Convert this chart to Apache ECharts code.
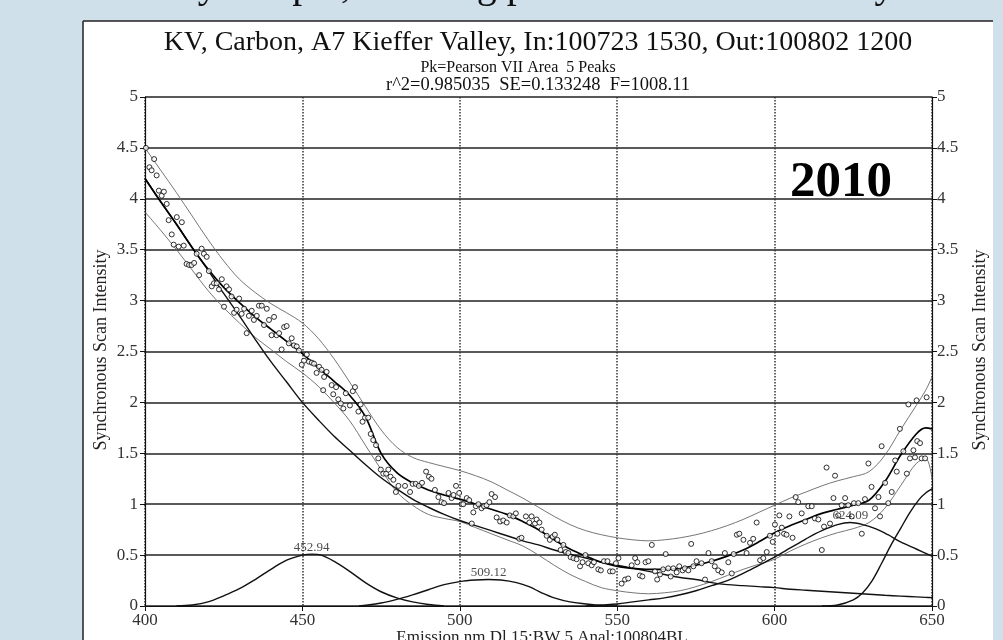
<!DOCTYPE html>
<html>
<head>
<meta charset="utf-8">
<script src="https://cdn.jsdelivr.net/npm/echarts@6/dist/echarts.min.js"></script>
<style>
html,body{margin:0;padding:0;background:#cfe0ea;}
#chart{width:1003px;height:640px;}
</style>
</head>
<body>
<div id="chart"></div>
<script>
// ---------- texts ----------
const slideTitle = "Valley sample, showing peaks in Carbon County";
const chartTitle = "KV, Carbon, A7 Kieffer Valley, In:100723 1530, Out:100802 1200";
const subTitle1 = "Pk=Pearson VII Area  5 Peaks";
const subTitle2 = "r^2=0.985035  SE=0.133248  F=1008.11";
const xAxisName = "Emission nm Dl 15:BW 5 Anal:100804BL";
const yAxisName = "Synchronous Scan Intensity";
const yearLabel = "2010";

// ---------- axes ----------
const xMin = 400, xMax = 650, xStep = 50;
const yMin = 0, yMax = 5, yStep = 0.5;

// ---------- measured data points ----------
const dataPoints = [
[400.3,4.50],[401.4,4.31],[402.1,4.28],[402.9,4.39],[403.7,4.23],[404.4,4.08],[405.3,4.03],[406.0,4.07],[406.9,3.95],[407.5,3.79],
[408.5,3.65],[409.1,3.55],[410.1,3.82],[410.7,3.53],[411.7,3.77],[412.3,3.54],[413.2,3.36],[414.0,3.35],[414.8,3.35],[415.6,3.37],
[416.4,3.46],[417.2,3.25],[418.0,3.51],[418.7,3.46],[419.6,3.43],[420.3,3.29],[421.2,3.14],[421.9,3.17],[422.8,3.17],[423.5,3.11],
[424.4,3.21],[425.1,2.94],[425.9,3.14],[426.7,3.11],[427.5,3.04],[428.3,2.88],[429.1,2.91],[429.9,3.02],[430.7,2.87],[431.5,2.92],
[432.3,2.68],[433.0,2.85],[433.9,2.90],[434.6,2.81],[435.5,2.85],[436.2,2.95],[437.1,2.95],[437.8,2.76],[438.7,2.92],[439.4,2.81],
[440.2,2.66],[441.0,2.84],[441.8,2.66],[442.6,2.68],[443.4,2.52],[444.2,2.74],[445.0,2.75],[445.7,2.58],[446.6,2.63],[447.3,2.56],
[448.2,2.55],[448.9,2.51],[449.8,2.37],[450.5,2.41],[451.4,2.47],[452.1,2.40],[453.0,2.39],[453.7,2.38],[454.5,2.29],[455.3,2.35],
[456.1,2.32],[456.6,2.12],[456.9,2.25],[457.7,2.30],[459.3,2.17],[459.8,2.08],[460.7,2.15],[461.4,2.03],[462.2,1.99],[463.0,1.94],
[463.8,2.09],[465.1,1.97],[466.0,2.11],[466.7,2.15],[467.8,1.91],[468.5,1.98],[469.1,1.81],[469.9,1.85],[470.9,1.85],[471.7,1.69],
[472.5,1.63],[473.4,1.58],[474.1,1.45],[474.9,1.34],[475.7,1.30],[476.6,1.30],[477.3,1.34],[478.0,1.27],[478.9,1.24],[479.7,1.12],
[480.5,1.18],[482.6,1.18],[484.2,1.12],[485.0,1.20],[486.0,1.20],[487.0,1.18],[488.0,1.21],[489.3,1.32],[490.2,1.27],[491.0,1.25],
[492.1,1.14],[493.2,1.07],[494.2,1.02],[495.0,1.01],[496.4,1.11],[497.4,1.06],[498.0,1.09],[498.8,1.18],[499.8,1.11],[500.6,1.00],
[501.1,1.00],[502.2,1.06],[503.0,1.04],[503.8,0.81],[504.3,0.92],[505.1,0.98],[505.9,1.00],[506.9,0.96],[507.7,0.98],[508.5,0.99],
[509.4,1.02],[510.1,1.10],[511.2,1.07],[511.7,0.87],[512.8,0.83],[513.8,0.84],[514.9,0.82],[515.9,0.89],[517.0,0.88],[517.8,0.91],
[518.9,0.66],[519.6,0.67],[521.0,0.88],[522.1,0.82],[522.8,0.88],[523.9,0.81],[524.4,0.85],[525.3,0.82],[526.0,0.75],[527.6,0.69],
[528.6,0.65],[529.5,0.68],[530.2,0.70],[531.0,0.65],[532.0,0.55],[532.9,0.60],[533.7,0.53],[534.5,0.52],[535.2,0.48],[536.1,0.47],
[537.1,0.46],[538.2,0.39],[539.0,0.43],[539.9,0.50],[540.8,0.42],[541.9,0.40],[542.6,0.43],[544.0,0.36],[544.8,0.35],[545.8,0.44],
[546.9,0.44],[547.7,0.34],[548.6,0.34],[549.6,0.42],[550.4,0.47],[551.4,0.22],[552.5,0.26],[553.5,0.27],[554.6,0.40],[555.7,0.47],
[556.4,0.43],[557.2,0.30],[558.0,0.29],[559.0,0.43],[559.9,0.44],[561.0,0.60],[562.0,0.34],[562.7,0.26],[563.6,0.31],[564.6,0.36],
[565.4,0.51],[566.2,0.37],[567.0,0.29],[567.8,0.37],[568.9,0.33],[569.7,0.39],[570.8,0.35],[571.5,0.37],[572.6,0.35],[573.5,0.61],
[574.2,0.39],[575.2,0.44],[576.8,0.42],[577.9,0.26],[579.0,0.52],[580.0,0.44],[581.0,0.39],[582.1,0.35],[583.2,0.33],[584.2,0.52],
[585.3,0.43],[586.4,0.32],[587.0,0.51],[588.0,0.70],[588.8,0.71],[590.1,0.65],[591.1,0.52],[592.2,0.62],[593.2,0.66],[594.3,0.82],
[595.4,0.45],[596.4,0.47],[597.5,0.53],[598.5,0.69],[599.4,0.63],[600.1,0.80],[600.9,0.71],[601.5,0.89],[602.3,0.77],[603.0,0.71],
[603.8,0.70],[604.7,0.88],[605.7,0.67],[606.7,1.07],[607.5,1.02],[608.6,0.91],[609.7,0.83],[610.7,0.98],[611.8,0.98],[612.8,0.86],
[613.9,0.85],[615.0,0.55],[615.7,0.78],[616.5,1.36],[617.6,0.81],[618.7,1.06],[619.2,1.28],[620.2,0.89],[621.3,0.99],[622.4,1.06],
[623.4,0.99],[624.5,0.88],[625.2,1.01],[626.6,1.01],[627.7,0.71],[628.7,1.05],[629.8,1.40],[630.8,1.17],[631.9,0.96],[633.0,1.07],
[633.5,0.88],[634.0,1.57],[635.1,1.21],[636.1,1.01],[637.2,1.12],[638.3,1.43],[638.8,1.32],[639.8,1.74],[640.9,1.52],[642.0,1.30],
[642.5,1.98],[643.0,1.45],[644.1,1.53],[644.6,1.46],[645.1,2.02],[645.3,1.62],[646.2,1.60],[646.7,1.45],[647.8,1.45],[648.3,2.05]
];

// ---------- fitted curve, bands and baseline component (common grid) ----------
const curveX = [400,405,410,415,420,425,430,435,440,445,450,455,460,465,470,475,480,485,490,495,500,505,510,515,520,525,530,535,540,545,550,555,560,565,570,575,580,585,590,595,600,605,610,615,620,625,630,635,640,645,648,650];
const fitY   = [4.20,3.97,3.75,3.52,3.31,3.13,2.98,2.84,2.72,2.60,2.48,2.34,2.21,2.07,1.86,1.50,1.31,1.21,1.14,1.09,1.05,1.00,0.95,0.90,0.83,0.75,0.65,0.56,0.49,0.43,0.39,0.37,0.36,0.36,0.37,0.40,0.44,0.49,0.55,0.63,0.72,0.79,0.85,0.91,0.95,0.99,1.04,1.22,1.48,1.69,1.75,1.74];
const upperY = [4.50,4.28,4.06,3.83,3.60,3.39,3.21,3.08,2.97,2.88,2.78,2.63,2.43,2.20,1.96,1.73,1.56,1.46,1.41,1.37,1.33,1.28,1.22,1.14,1.06,0.97,0.88,0.80,0.74,0.70,0.67,0.65,0.64,0.65,0.67,0.70,0.74,0.79,0.85,0.92,0.99,1.06,1.12,1.18,1.23,1.27,1.32,1.48,1.73,1.97,2.12,2.25];
const lowerY = [3.87,3.69,3.50,3.30,3.10,2.93,2.78,2.64,2.52,2.40,2.29,2.16,2.00,1.82,1.58,1.34,1.12,0.99,0.90,0.86,0.83,0.77,0.71,0.65,0.59,0.50,0.40,0.31,0.24,0.18,0.15,0.13,0.12,0.13,0.15,0.19,0.24,0.30,0.36,0.41,0.46,0.54,0.61,0.67,0.72,0.76,0.82,0.96,1.18,1.40,1.45,1.25];
const peak1Y = [4.20,3.97,3.75,3.52,3.30,3.07,2.85,2.62,2.40,2.20,2.00,1.83,1.67,1.53,1.39,1.26,1.15,1.05,0.97,0.90,0.84,0.79,0.74,0.69,0.64,0.60,0.55,0.51,0.47,0.43,0.40,0.37,0.34,0.31,0.28,0.26,0.23,0.21,0.20,0.19,0.18,0.165,0.155,0.145,0.135,0.125,0.115,0.105,0.097,0.09,0.085,0.082];

// ---------- other fitted peaks ----------
const peak2X = [410,415,420,425,430,435,440,445,450,453,456,460,465,470,475,480,485,490,495];
const peak2Y = [0,0.01,0.04,0.10,0.17,0.26,0.36,0.45,0.50,0.51,0.50,0.44,0.34,0.23,0.14,0.08,0.04,0.015,0];
const peak3X = [468,475,480,485,490,495,500,505,509,513,518,522,526,530,535,540,545,550];
const peak3Y = [0,0.03,0.065,0.11,0.16,0.21,0.24,0.255,0.26,0.255,0.23,0.19,0.13,0.08,0.04,0.02,0.005,0];
const peak4X = [540,545,550,555,560,565,570,575,580,585,590,595,600,605,610,615,620,624,628,632,636,640,645,650];
const peak4Y = [0,0.01,0.02,0.04,0.06,0.08,0.11,0.15,0.20,0.25,0.32,0.40,0.48,0.57,0.66,0.74,0.80,0.82,0.80,0.76,0.70,0.63,0.56,0.49];
const peak5X = [615,620,625,628,631,634,637,640,643,646,648,650];
const peak5Y = [0,0.01,0.06,0.13,0.25,0.42,0.60,0.76,0.92,1.05,1.11,1.15];

// ---------- peak labels ----------
const peakLabelX = [452.94, 509.12, 624.09];
const peakLabelY = [0.51, 0.26, 0.82];
const peakLabelText = ["452.94", "509.12", "624.09"];

const zip = (xs, ys) => xs.map((x, i) => [x, ys[i]]);
const FONT = "Liberation Serif";

const chart = echarts.init(document.getElementById('chart'), null, {renderer: 'canvas'});

const lineSeries = (name, xs, ys, color, width) => ({
  name, type: 'line', data: zip(xs, ys), smooth: 0.35, showSymbol: false, symbol: 'none',
  lineStyle: {color, width}, silent: true, animation: false, z: 3
});

const yAxisCommon = {
  type: 'value', min: yMin, max: yMax, interval: yStep,
  axisLine: {show: true, lineStyle: {color: '#111', width: 1.2}},
  axisTick: {show: true, length: 5, lineStyle: {color: '#111', width: 1}}
};
const yLabel = margin => ({fontFamily: FONT, fontSize: 17, color: '#333', margin,
  formatter: v => String(Math.round(v * 10) / 10)});

const option = {
  backgroundColor: '#cfe0ea',
  animation: false,
  grid: {left: 145, right: 71, top: 97, bottom: 34, containLabel: false},
  xAxis: {
    type: 'value', min: xMin, max: xMax, interval: xStep,
    axisLine: {show: true, onZero: false, lineStyle: {color: '#111', width: 1.2}},
    axisTick: {show: true, length: 5, lineStyle: {color: '#111'}},
    axisLabel: {fontFamily: FONT, fontSize: 17, color: '#333', margin: 6},
    splitLine: {show: true, lineStyle: {color: '#333', width: 1.5, type: [1.5, 1.5]}}
  },
  yAxis: [
    Object.assign({}, yAxisCommon, {position: 'left', axisLabel: yLabel(7),
      splitLine: {show: true, lineStyle: {color: '#222', width: 1.5}}}),
    Object.assign({}, yAxisCommon, {position: 'right', axisLabel: yLabel(5), splitLine: {show: false}})
  ],
  graphic: [
    {type: 'rect', z: -20, silent: true, shape: {x: 83, y: 21, width: 910, height: 640}, style: {fill: '#ffffff'}},
    {type: 'line', z: -19, silent: true, shape: {x1: 83, y1: 21, x2: 993, y2: 21}, style: {stroke: '#222', lineWidth: 1.5}},
    {type: 'line', z: -19, silent: true, shape: {x1: 83, y1: 21, x2: 83, y2: 640}, style: {stroke: '#222', lineWidth: 1.5}},
    {type: 'text', silent: true, x: 505, y: 6, style: {text: slideTitle, fontFamily: FONT, fontSize: 40, fill: '#111', align: 'center', verticalAlign: 'bottom'}},
    {type: 'text', silent: true, x: 538, y: 43, style: {text: chartTitle, fontFamily: FONT, fontSize: 28, fill: '#111', align: 'center', verticalAlign: 'middle'}},
    {type: 'text', silent: true, x: 518, y: 68, style: {text: subTitle1, fontFamily: FONT, fontSize: 16, fill: '#111', align: 'center', verticalAlign: 'middle'}},
    {type: 'text', silent: true, x: 538, y: 85, style: {text: subTitle2, fontFamily: FONT, fontSize: 18.5, fill: '#111', align: 'center', verticalAlign: 'middle'}},
    {type: 'text', silent: true, x: 101, y: 350, rotation: Math.PI / 2, style: {text: yAxisName, fontFamily: FONT, fontSize: 18, fill: '#222', align: 'center', verticalAlign: 'middle'}},
    {type: 'text', silent: true, x: 980, y: 350, rotation: Math.PI / 2, style: {text: yAxisName, fontFamily: FONT, fontSize: 18, fill: '#222', align: 'center', verticalAlign: 'middle'}},
    {type: 'text', silent: true, x: 542, y: 629, style: {text: xAxisName, fontFamily: FONT, fontSize: 17, fill: '#222', align: 'center', verticalAlign: 'top'}},
    {type: 'text', silent: true, x: 790, y: 183, style: {text: yearLabel, fontFamily: FONT, fontSize: 51, fontWeight: 'bold', fill: '#000', align: 'left', verticalAlign: 'middle'}}
  ],
  series: [
    lineSeries('Upper', curveX, upperY, '#666', 0.9),
    lineSeries('Lower', curveX, lowerY, '#666', 0.9),
    lineSeries('Peak 1', curveX, peak1Y, '#111', 1.4),
    lineSeries('Peak 2', peak2X, peak2Y, '#111', 1.4),
    lineSeries('Peak 3', peak3X, peak3Y, '#111', 1.4),
    lineSeries('Peak 4', peak4X, peak4Y, '#111', 1.4),
    lineSeries('Peak 5', peak5X, peak5Y, '#111', 1.4),
    lineSeries('Fit', curveX, fitY, '#000', 1.7),
    {
      name: 'Data', type: 'scatter', data: dataPoints, symbol: 'circle', symbolSize: 5,
      itemStyle: {color: '#fff', borderColor: '#000', borderWidth: 1}, z: 4, silent: true
    },
    {
      name: 'Peak labels', type: 'scatter', symbolSize: 0, silent: true, z: 5,
      data: peakLabelX.map((x, i) => ({value: [x, peakLabelY[i]], name: peakLabelText[i]})),
      label: {show: true, position: 'top', distance: 0, formatter: p => p.name,
        fontFamily: FONT, fontSize: 13, color: '#222'}
    }
  ]
};
chart.setOption(option);
</script>
</body>
</html>
